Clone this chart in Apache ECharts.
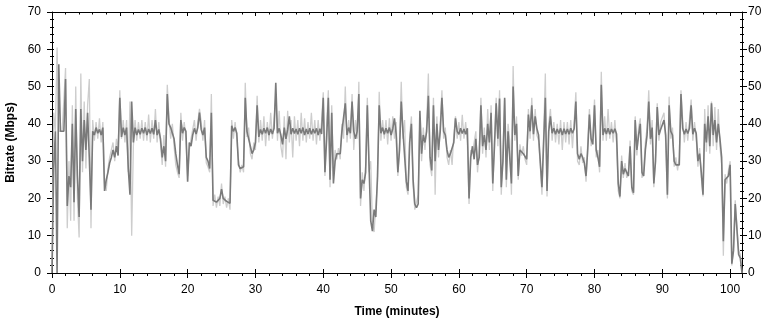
<!DOCTYPE html>
<html>
<head>
<meta charset="utf-8">
<script src="https://cdn.jsdelivr.net/npm/echarts@6/dist/echarts.min.js"></script>
<style>
html,body{margin:0;padding:0;background:#fff;}
#chart{width:775px;height:323px;}
</style>
</head>
<body>
<div id="chart"></div>
<script>
// sampling interval of the trace, minutes
const sampleMinutes = 0.25;
const timeMax = 101.75;
const yTicks = [0, 10, 20, 30, 40, 50, 60, 70];
const xTicks = [0, 10, 20, 30, 40, 50, 60, 70, 80, 90, 100];

// main (dark) bitrate trace, Mbps, one row per minute
const bitrateMain = [
  0, 28, 38, 0,
  56, 38, 38, 38,
  52, 18, 26, 23,
  40, 19, 44, 26,
  15, 44, 30, 41,
  33, 43, 31, 17,
  38, 37, 39, 37.5,
  38.5, 37, 39, 22,
  25, 27, 29.5, 31,
  33, 31, 34, 31.5,
  47, 36.5, 39, 37,
  39, 28, 21, 46,
  35, 39, 37, 38.5,
  37.2, 38.8, 37.5, 39,
  37, 38.6, 37.4, 38.8,
  37.2, 41, 37, 38.5,
  36, 31, 34, 30,
  48, 40, 39, 37.5,
  36, 32, 29, 26.5,
  41, 37.5, 39, 38,
  24.5, 35, 34, 37,
  38.8, 37.3, 39, 43,
  38.5, 37, 39, 31,
  30, 28, 43, 19.5,
  19.8, 19, 19.5, 20,
  22.5, 20, 19.5, 19.2,
  19, 18.7, 39.5, 38,
  39, 37.5, 29, 28,
  27.7, 28.5, 47, 38,
  36, 34, 32, 33,
  35, 45, 36.5, 38.5,
  37.2, 38.8, 37.5, 39,
  37, 38.6, 37.3, 38.8,
  51, 37.5, 38.8, 37,
  34.5, 39, 36, 38.5,
  42, 37.2, 38.8, 37.4,
  38.6, 37.2, 38.8, 37.5,
  39, 37, 38.6, 37.3,
  38.8, 37.2, 38.6, 37.5,
  38.8, 37, 38.7, 37.3,
  47, 27, 36, 47,
  25, 43, 24, 30,
  32, 31.5, 32, 38,
  37.5, 45.5, 37, 39,
  37.5, 46, 38, 36,
  38, 48, 20, 25,
  24, 27, 45, 29,
  14, 11.2, 17, 15,
  26, 45, 37.5, 39,
  37.2, 38.8, 37.5, 39,
  37, 38.7, 41.5, 37.3,
  27, 33, 46, 38,
  38, 24.5, 22, 35,
  40, 25, 18.5, 17.5,
  18.5, 43.5, 32, 37,
  35, 38, 47.5, 31,
  27.5, 45, 30, 40,
  33, 38, 47, 38,
  37, 33, 31, 32,
  31.5, 35, 41.5, 38,
  37.2, 38.8, 37.4, 38.6,
  37.2, 38.8, 20, 31,
  34, 30.5, 36, 29,
  31, 45, 34, 37,
  33, 40, 35, 43,
  24, 34, 45.5, 36,
  46.8, 23, 30, 47,
  25, 38, 37.5, 24,
  50, 37, 40, 26,
  33, 33, 32, 31.5,
  30.5, 42.5, 38, 45,
  37.2, 42, 38.8, 37,
  30, 23, 22.5, 47,
  22, 38, 42, 37.5,
  38.8, 37.2, 38.6, 37.4,
  38.8, 37, 38.7, 37.3,
  38.6, 37.2, 38.8, 37.5,
  38.7, 46, 32, 30.5,
  32, 31, 29.5, 26,
  33, 42.5, 36, 34.5,
  45, 33, 31, 28.5,
  50.5, 37, 38.8, 37.3,
  38.8, 37.2, 38.6, 37.5,
  38.7, 37.3, 24, 20.5,
  30, 26.5, 28, 27,
  26, 34, 23, 21.5,
  41, 33, 37, 40,
  27, 26, 33, 37,
  46, 36, 39, 24,
  30, 44.5, 37, 38.5,
  38, 41, 37, 21,
  45, 38, 37, 30,
  29, 28.5, 29, 48,
  38.8, 37.2, 38.6, 37.4,
  38.8, 45, 37.2, 38.8,
  37.5, 30, 32, 27,
  21, 40, 35, 42,
  34, 45.5, 37, 41,
  35, 40, 36, 31,
  8.5, 25, 25.5, 26,
  29, 2.5, 6, 18.5,
  18, 5, 4, 0
];

// light (peak / spread) trace, Mbps, one row per minute
const bitratePeak = [
  2, 43, 38, 60.5,
  38, 38, 38, 38,
  55, 12, 30, 14,
  45, 14, 50, 20,
  9.5, 53.5, 27, 46,
  28, 45, 52, 12,
  41, 35.5, 40.5, 36,
  41.5, 35, 40.5, 24,
  22, 28, 31, 33,
  35, 30, 36, 33,
  49, 36, 41, 35,
  41, 27, 46, 10,
  34, 41, 35.5, 40.5,
  36, 41, 35.5, 40.5,
  35.5, 42.5, 35, 41,
  36, 44, 35, 40.5,
  40, 29, 37, 28.5,
  50.5, 41.5, 36, 40,
  34, 29, 27, 25.5,
  43, 35.5, 40.5, 36,
  26, 33, 36, 38.5,
  41, 35.5, 40.5, 44,
  40.5, 35.5, 41, 29.5,
  28.5, 27, 48, 18,
  21, 17.5, 20.5, 18,
  24, 18.5, 20.5, 17.5,
  20, 17, 41, 36,
  40.5, 36, 30.5, 27,
  29, 27, 51, 36.5,
  39, 32, 30.5, 35,
  33, 47.5, 35, 41,
  35.5, 42, 34, 40.5,
  35.5, 43, 36, 41,
  47, 35.5, 43.5, 34,
  31, 42, 30.5, 43.5,
  35, 41, 31, 42,
  35.5, 41, 34, 43,
  35.5, 41.5, 35, 40.5,
  36, 43, 35.5, 41,
  34.5, 41, 35.5, 40.5,
  48.5, 26, 40, 49,
  23, 45, 26, 33,
  30.5, 33.5, 30.5, 40,
  36, 50, 35, 41,
  36, 48, 33, 41,
  36, 51.3, 18, 27,
  22, 29, 47, 27,
  30, 13, 11, 18,
  24, 48.6, 35.5, 41,
  36, 41, 34.5, 41.5,
  35.5, 42, 36, 40.5,
  26, 35, 51.3, 36,
  41, 23, 21, 37,
  42, 23.5, 17, 17,
  21, 41.5, 30, 39,
  33, 40, 53.5, 29,
  26, 47, 21, 42,
  31, 40, 49, 36,
  39, 31, 29, 33,
  29, 37, 42, 36,
  40.5, 35.5, 42.4, 36,
  40.5, 35, 18.5, 33,
  32, 32.5, 38, 27,
  33, 47, 32, 39,
  31, 44, 33, 45,
  22, 36, 47, 34,
  49, 21, 32, 46.5,
  23, 40, 35.5, 21,
  55.5, 35.5, 42, 25,
  34.5, 31.5, 34, 30.5,
  29, 44, 36, 47,
  35.5, 44, 37, 35.5,
  29, 21, 21, 53.5,
  20.5, 40, 44, 35.5,
  40.5, 35, 40, 34.5,
  41, 33, 40.5, 35,
  40.5, 34.5, 41, 33.5,
  40.5, 48.5, 30, 29,
  34, 29.5, 31, 24.5,
  35, 44, 34, 36.5,
  46.5, 31, 33, 27,
  54, 35.5, 42, 35.5,
  44, 36, 40.5, 35,
  41, 35, 22, 20,
  31.5, 25.5, 29.5, 25.5,
  27.5, 35.5, 22, 21,
  42, 31.5, 39, 41.5,
  25.5, 27.5, 35, 39,
  49, 34.5, 41, 23,
  31.5, 45.5, 35.5, 40.5,
  40, 43, 35, 20,
  47.3, 36, 39, 28.5,
  31, 27.5, 31, 49,
  41, 35, 40.5, 35.5,
  41, 46.5, 35.5, 40.5,
  36, 28.5, 33.5, 25.5,
  20.5, 44, 32.5, 45,
  32, 46, 34, 44.5,
  33, 44, 34, 29,
  4.6, 26.5, 24, 27.5,
  30, 2, 7, 19.5,
  19, 6, 5, 0
];

const FONT = '"Liberation Sans", Arial, sans-serif';
const mainPairs = bitrateMain.map((v, i) => [i * sampleMinutes, v]);
const peakPairs = bitratePeak.map((v, i) => [i * sampleMinutes, v]);

const chart = echarts.init(document.getElementById('chart'), null, {renderer: 'canvas'});

const black = '#000000';
function xAx(extra) {
  return Object.assign({
    type: 'value', min: xTicks[0], max: timeMax, interval: 10,
    splitLine: {show: false},
    axisLine: {show: true, onZero: false, lineStyle: {color: black, width: 1}},
    axisTick: {show: true, length: 5, lineStyle: {color: black}},
    minorTick: {show: false},
    axisLabel: {show: false},
    silent: true
  }, extra);
}
function yAx(extra) {
  return Object.assign({
    type: 'value', min: yTicks[0], max: yTicks[yTicks.length - 1], interval: 10,
    splitLine: {show: false},
    axisLine: {show: true, onZero: false, lineStyle: {color: black, width: 1}},
    axisTick: {show: true, length: 5, lineStyle: {color: black}},
    minorTick: {show: false},
    axisLabel: {show: false},
    silent: true
  }, extra);
}

chart.setOption({
  animation: false,
  backgroundColor: '#ffffff',
  textStyle: {fontFamily: FONT},
  grid: {left: 52, right: 33, top: 12, bottom: 50, containLabel: false, outerBoundsMode: 'none'},
  xAxis: [
    xAx({
      position: 'bottom',
      axisTick: {show: true, length: 5, lineStyle: {color: black}},
      minorTick: {show: true, splitNumber: 5, length: 3, lineStyle: {color: black}},
      axisLabel: {show: true, margin: 11, fontSize: 12, color: black, fontFamily: FONT, showMaxLabel: false},
      name: 'Time (minutes)', nameLocation: 'middle', nameGap: 33,
      nameTextStyle: {fontWeight: 'bold', fontSize: 12, color: black, fontFamily: FONT}
    }),
    xAx({
      position: 'bottom',
      axisLine: {show: false, onZero: false},
      axisTick: {show: true, inside: true, length: 4, lineStyle: {color: black}}
    }),
    xAx({
      position: 'top',
      axisTick: {show: true, inside: true, length: 4, lineStyle: {color: black}},
      minorTick: {show: true, splitNumber: 5, length: 2.5, lineStyle: {color: black}}
    })
  ],
  yAxis: [
    yAx({
      position: 'left',
      minorTick: {show: true, splitNumber: 5, length: 2, lineStyle: {color: black}},
      axisLabel: {show: true, margin: 11, fontSize: 12, color: black, fontFamily: FONT},
      name: 'Bitrate (Mbps)', nameLocation: 'middle', nameGap: 35,
      nameTextStyle: {fontWeight: 'bold', fontSize: 12, color: black, fontFamily: FONT}
    }),
    yAx({
      position: 'left',
      axisLine: {show: false, onZero: false},
      axisTick: {show: true, inside: true, length: 2, lineStyle: {color: black}},
      minorTick: {show: true, splitNumber: 5, length: 2, lineStyle: {color: black}}
    }),
    yAx({
      position: 'right',
      minorTick: {show: true, splitNumber: 5, length: 2, lineStyle: {color: black}},
      axisLabel: {show: true, margin: 6, fontSize: 12, color: black, fontFamily: FONT}
    }),
    yAx({
      position: 'right',
      axisLine: {show: false, onZero: false},
      axisTick: {show: true, inside: true, length: 2, lineStyle: {color: black}},
      minorTick: {show: true, splitNumber: 5, length: 2, lineStyle: {color: black}}
    })
  ],
  series: [
    {
      name: 'Peak', type: 'line', xAxisIndex: 0, yAxisIndex: 0,
      data: peakPairs, showSymbol: false, symbol: 'none', silent: true,
      lineStyle: {color: '#cdcdcd', width: 1.3}, z: 1, clip: true
    },
    {
      name: 'Bitrate', type: 'line', xAxisIndex: 0, yAxisIndex: 0,
      data: mainPairs, showSymbol: false, symbol: 'none', silent: true,
      lineStyle: {color: '#7a7a7a', width: 1.6}, z: 2, clip: true
    }
  ]
});
</script>
</body>
</html>
